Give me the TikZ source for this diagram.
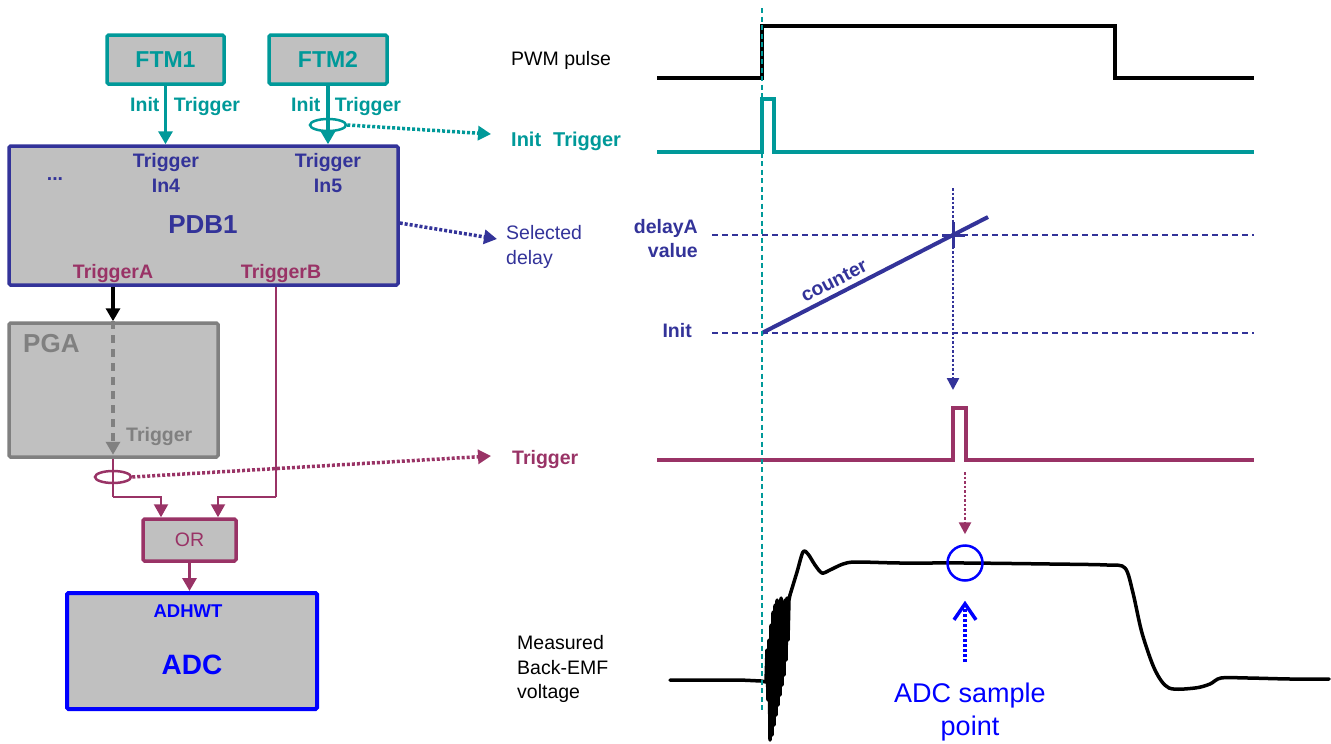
\documentclass[tikz,border=0pt]{standalone}
\usepackage{fontspec}
\setmainfont{Liberation Sans}
\usetikzlibrary{arrows.meta,shapes.geometric}
\definecolor{tealc}{RGB}{0,153,153}
\definecolor{navyc}{RGB}{51,51,153}
\definecolor{marc}{RGB}{153,51,102}
\definecolor{boxg}{RGB}{192,192,192}
\definecolor{grayb}{RGB}{128,128,128}
\definecolor{bluec}{RGB}{0,0,255}
\newcommand{\fsA}{\fontsize{19.5}{24}\selectfont}
\newcommand{\fsB}{\fontsize{26}{30}\selectfont}
\tikzset{
  box/.style={draw, fill=boxg, line width=3.5pt, rounded corners=1.5pt, inner sep=0pt},
  txt/.style={inner sep=0pt, font=\fsA},
  btxt/.style={inner sep=0pt, font=\fsA\bfseries},
  tipA/.style={-{Triangle[length=13pt,width=14pt]}},
  dotl/.style={line width=3.5pt, dash pattern=on 3pt off 2pt},
  ring/.style={ellipse, draw, line width=2.5pt, minimum width=36pt, minimum height=12pt, inner sep=0pt},
  wave/.style={line width=3.5pt, line join=miter}
}
\begin{document}
\begin{tikzpicture}[x=1pt,y=-1pt]
\useasboundingbox (0,0) rectangle (1331,744);

% ---------- left block diagram ----------
\node[box, draw=tealc, text=tealc, font=\fontsize{23}{27}\selectfont\bfseries, minimum width=117pt, minimum height=49pt] (FTM1) at (165.5,59.5) {FTM1};
\node[box, draw=tealc, text=tealc, font=\fontsize{23}{27}\selectfont\bfseries, minimum width=118pt, minimum height=49pt] (FTM2) at (328,59.5) {FTM2};
\node[box, draw=navyc, minimum width=389pt, minimum height=139pt] (PDB1) at (203.5,215.5) {};
\node[box, draw=grayb, minimum width=209pt, minimum height=134pt] (PGA) at (113.5,390) {};
\node[box, draw=marc, text=marc, font=\fsA, minimum width=93pt, minimum height=42pt] (OR) at (189.5,540) {OR};
\node[box, draw=bluec, line width=4pt, minimum width=250pt, minimum height=116pt] (ADC) at (192,651) {};

\node[btxt, text=tealc, anchor=base west] (it1) at (130,111) {Init\hspace{14.5pt}Trigger};
\node[btxt, text=tealc, anchor=base west] (it2) at (291,111) {Init\hspace{14.5pt}Trigger};

\node[btxt, text=navyc, anchor=base] (tin4a) at (166,167) {Trigger};
\node[btxt, text=navyc, anchor=base] (tin4b) at (166,192) {In4};
\node[btxt, text=navyc, anchor=base] (tin5a) at (328,167) {Trigger};
\node[btxt, text=navyc, anchor=base] (tin5b) at (328,192) {In5};
\node[btxt, text=navyc, anchor=base] (tdots) at (55,180) {...};
\node[inner sep=0pt, text=navyc, font=\fsB\bfseries, anchor=base] (tpdb) at (203,233) {PDB1};
\node[btxt, text=marc, anchor=base] (tta) at (113,278) {TriggerA};
\node[btxt, text=marc, anchor=base] (ttb) at (281,278) {TriggerB};
\node[inner sep=0pt, text=grayb, font=\fsB\bfseries, anchor=base west] (tpga) at (23,352) {PGA};
\node[btxt, text=grayb, anchor=base west] (tpgatr) at (126,441) {Trigger};
\node[inner sep=0pt, text=bluec, font=\fontsize{18.5}{22}\selectfont\bfseries, anchor=base] (tadhwt) at (188,617) {ADHWT};
\node[inner sep=0pt, text=bluec, font=\fontsize{28}{32}\selectfont\bfseries, anchor=base] (tadc) at (192,674) {ADC};

\coordinate (xa) at (113,0);
\coordinate (xb) at (276,0);
\coordinate (orA) at (161,0);
\coordinate (orB) at (218,0);
\coordinate (jA) at (113,497);
\coordinate (jB) at (276,497);

\draw[tealc, line width=3.5pt, tipA] (FTM1.south) -- (FTM1.south |- PDB1.north);
\draw[tealc, line width=3.5pt, tipA] (FTM2.south) -- (FTM2.south |- PDB1.north);
\node[ring, draw=tealc] (ringT) at (328,125) {};

\draw[black, line width=3.5pt, tipA] (PDB1.south -| xa) -- (PGA.north -| xa);
\draw[grayb, line width=4pt, dash pattern=on 8pt off 6pt, tipA] (PGA.north -| xa) -- ([yshift=4pt]PGA.south -| xa);
\draw[marc, line width=2.2pt] (PGA.south -| xa) -- (jA);
\draw[marc, line width=2.2pt, tipA] (jA) -| (OR.north -| orA);
\draw[marc, line width=2.2pt] (PDB1.south -| xb) -- (jB);
\draw[marc, line width=2.2pt, tipA] (jB) -| (OR.north -| orB);
\node[ring, draw=marc] (ringM) at (113,477) {};
\draw[marc, line width=3.5pt, tipA] (OR.south) -- (OR.south |- ADC.north);

% ---------- right side labels ----------
\node[txt, anchor=base west] (tpwm) at (511,65) {PWM pulse};
\node[inner sep=0pt, text=tealc, font=\fontsize{20}{24}\selectfont\bfseries, anchor=base west] (tinit) at (511,146) {Init\hspace{12pt}Trigger};
\node[txt, text=navyc, anchor=base west] (tsel1) at (506,239) {Selected};
\node[txt, text=navyc, anchor=base west] (tsel2) at (506,264) {delay};
\node[btxt, text=navyc, anchor=base east] (tdel1) at (698,233) {delayA};
\node[btxt, text=navyc, anchor=base east] (tdel2) at (698,257) {value};
\node[btxt, text=navyc, anchor=base east] (tinitc) at (692,337) {Init};
\node[btxt, text=marc, anchor=base west] (ttrig) at (512,464) {Trigger};
\node[txt, anchor=base west] (tm1) at (517,649) {Measured};
\node[txt, anchor=base west] (tm2) at (517,674) {Back-EMF};
\node[txt, anchor=base west] (tm3) at (517,698) {voltage};
\node[inner sep=0pt, text=bluec, font=\fontsize{27}{32}\selectfont, anchor=base] (tsp1) at (970,702) {ADC sample};
\node[inner sep=0pt, text=bluec, font=\fontsize{27}{32}\selectfont, anchor=base] (tsp2) at (970,735) {point};
\node[btxt, text=navyc, rotate=27.2] (tcnt) at (834,281) {counter};

% dotted pointers
\coordinate (itTip) at (491,134);
\coordinate (sdTip) at (497,239);
\coordinate (trTip) at (491,456);
\coordinate (sdFrom) at (0,223);
\draw[tealc, dotl, -{Triangle[length=13pt,width=14pt]}] (ringT.east) -- (itTip);
\draw[navyc, dotl, -{Triangle[length=13pt,width=14pt]}] (PDB1.east |- sdFrom) -- (sdTip);
\draw[marc, dotl, -{Triangle[length=13pt,width=14pt]}] (ringM.east) -- (trTip);

% ---------- waveforms ----------
\draw[wave, black] (657,78) -- (762,78) -- (762,26) -- (1115,26) -- (1115,78) -- (1254,78);
\draw[wave, tealc] (657,152) -- (762,152) -- (762,99) -- (774,99) -- (774,152) -- (1254,152);
\draw[wave, marc] (657,460) -- (953,460) -- (953,408) -- (966,408) -- (966,460) -- (1254,460);

\draw[navyc, line width=2.5pt, dash pattern=on 6pt off 4pt] (712,235) -- (1254,235);
\draw[navyc, line width=2.5pt, dash pattern=on 6pt off 4pt] (712,333) -- (1254,333);
\draw[navyc, line width=4pt] (762,333) -- (988,217);
\draw[navyc, line width=3pt] (942,235) -- (965,235) (953,222) -- (953,248);
\coordinate (vTop) at (953,188);
\coordinate (vTip) at (953,390);
\draw[navyc, line width=2.5pt, dash pattern=on 2.5pt off 2pt, -{Triangle[length=12pt,width=12pt]}] (vTop) -- (vTip);

% back-EMF
\draw[black, line width=3.5pt, line join=round, line cap=round]
  (670,680) -- (700,680) -- (740,680) -- (761,681) -- (766,682)
  -- (767,650) -- (768,700) -- (769,640) -- (770,740) -- (771,625) -- (772,735)
  -- (773,612) -- (774,725) -- (775,605) -- (776,715) -- (777,600) -- (778,705)
  -- (779,605) -- (780,695) -- (781,598) -- (782,685) -- (783,603) -- (784,675)
  -- (785,600) -- (786,660) -- (787,598) -- (788,640) -- (789,600) -- (790,595);
\draw[black, line width=3.5pt, line join=round, line cap=round] plot[smooth, tension=0.5] coordinates {
  (790,595) (797,572) (803,552) (808,554) (815,565) (822,573) (830,570) (843,564)
  (856,562) (900,563) (965,563) (1050,564) (1107,565) (1125,568) (1133,593)
  (1142,633) (1155,670) (1169,688) (1195,688) (1210,684) (1221,678) (1248,678)
  (1290,679) (1329,679)};

\node[circle, draw=bluec, line width=2.5pt, minimum size=35pt, inner sep=0pt] (samp) at (965,563) {};
\coordinate (mTop) at (965,472);
\draw[marc, line width=2.5pt, dash pattern=on 2.5pt off 2pt, -{Triangle[length=12pt,width=12pt]}] (mTop) -- ([yshift=10pt]samp.north);
\coordinate (bBot) at (965,662);
\draw[bluec, line width=3.5pt, dash pattern=on 3pt off 2pt, -{Straight Barb[length=16pt,width=22pt]}] (bBot) -- ([yshift=-19pt]samp.south);

% marker line
\draw[tealc, line width=2.5pt, dash pattern=on 5pt off 3.5pt] (762,8) -- (762,712);
\end{tikzpicture}
\end{document}
